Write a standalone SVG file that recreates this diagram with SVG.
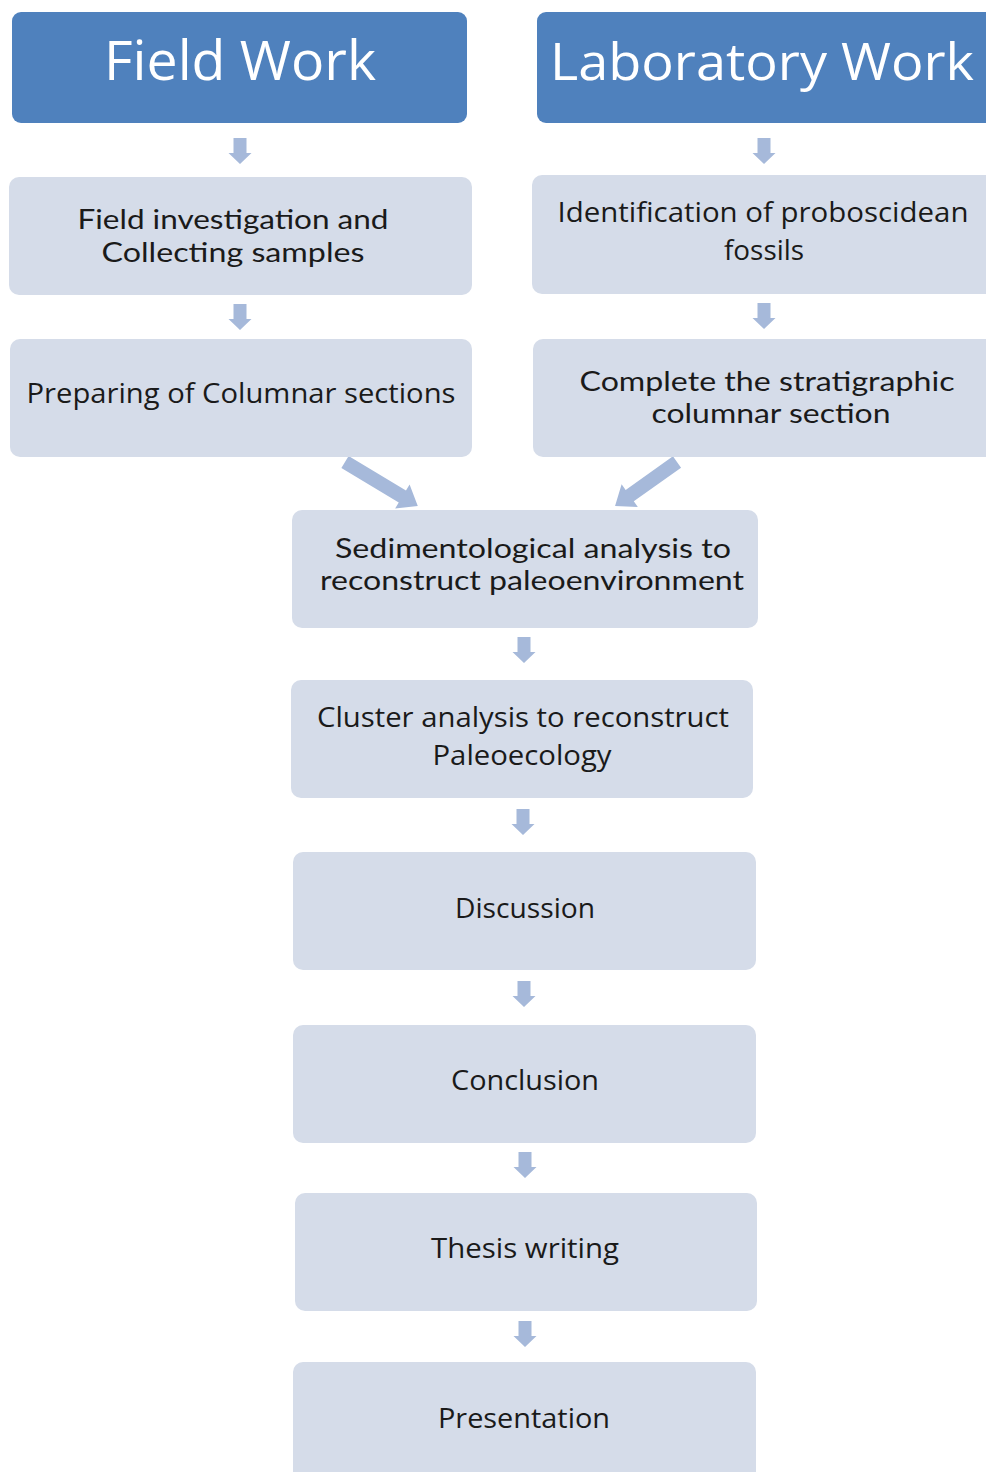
<svg xmlns="http://www.w3.org/2000/svg" width="986" height="1472" viewBox="0 0 986 1472">
<style>
.hdr{fill:#4F81BD}
.box{fill:#D5DCE9}
.arr{fill:#A6B9DA}
.ht{font-family:"Open Sans","Liberation Sans",sans-serif;font-size:55px;fill:#FFFFFF;text-anchor:middle}
.t1{font-family:"Open Sans","Liberation Sans",sans-serif;font-size:27px;fill:#1A1A1A;text-anchor:middle}
.t2{font-family:"Lato","DejaVu Sans",sans-serif;font-size:26px;fill:#1A1A1A;text-anchor:middle}
</style>
<defs>
<path id="down" d="M-6.5,0 h13 v15 h5 l-11.5,11 l-11.5,-11 h5 z"/>
</defs>
<rect width="986" height="1472" fill="#FFFFFF"/>
<g id="connectors">
<use href="#down" class="arr" x="240" y="138"/>
<use href="#down" class="arr" x="764" y="138"/>
<use href="#down" class="arr" x="240" y="304"/>
<use href="#down" class="arr" x="764" y="303"/>
<path class="arr" transform="translate(345,462) rotate(31.1)" d="M0,-7 h67 v-7 l18,14 l-18,14 v-7 h-67 z"/>
<path class="arr" transform="translate(677,462) rotate(144.6)" d="M0,-7 h58 v-7 l18,14 l-18,14 v-7 h-58 z"/>
<use href="#down" class="arr" x="524" y="637"/>
<use href="#down" class="arr" x="523" y="809"/>
<use href="#down" class="arr" x="524" y="981"/>
<use href="#down" class="arr" x="525" y="1152"/>
<use href="#down" class="arr" x="525" y="1321"/>
</g>
<g id="field-work">
<rect class="hdr" x="12" y="12" width="455" height="111" rx="9"/>
<text class="ht" x="240" y="80" textLength="272" lengthAdjust="spacingAndGlyphs">Field Work</text>
</g>
<g id="laboratory-work">
<path class="hdr" d="M546,12 H986 V123 H546 A9,9 0 0 1 537,114 V21 A9,9 0 0 1 546,12 Z"/>
<text class="ht" x="762" y="80" textLength="424" lengthAdjust="spacingAndGlyphs" style="font-size:52px">Laboratory Work</text>
</g>
<g id="field-investigation">
<rect class="box" x="9" y="177" width="463" height="118" rx="10"/>
<text class="t2" x="233" y="229" textLength="311" lengthAdjust="spacingAndGlyphs">Field investigation and</text>
<text class="t2" x="233" y="262" textLength="263" lengthAdjust="spacingAndGlyphs">Collecting samples</text>
</g>
<g id="identification">
<path class="box" d="M542,175 H986 V294 H542 A10,10 0 0 1 532,284 V185 A10,10 0 0 1 542,175 Z"/>
<text class="t1" x="763" y="222" textLength="411" lengthAdjust="spacingAndGlyphs">Identification of proboscidean</text>
<text class="t1" x="764" y="260" textLength="80" lengthAdjust="spacingAndGlyphs">fossils</text>
</g>
<g id="preparing">
<rect class="box" x="10" y="339" width="462" height="118" rx="10"/>
<text class="t1" x="241" y="403" textLength="429" lengthAdjust="spacingAndGlyphs">Preparing of Columnar sections</text>
</g>
<g id="complete">
<path class="box" d="M543,339 H986 V457 H543 A10,10 0 0 1 533,447 V349 A10,10 0 0 1 543,339 Z"/>
<text class="t2" x="767" y="391" textLength="375" lengthAdjust="spacingAndGlyphs">Complete the stratigraphic</text>
<text class="t2" x="771" y="423" textLength="239" lengthAdjust="spacingAndGlyphs">columnar section</text>
</g>
<g id="sedimentological">
<rect class="box" x="292" y="510" width="466" height="118" rx="10"/>
<text class="t2" x="533" y="558" textLength="396" lengthAdjust="spacingAndGlyphs">Sedimentological analysis to</text>
<text class="t2" x="532" y="590" textLength="424" lengthAdjust="spacingAndGlyphs">reconstruct paleoenvironment</text>
</g>
<g id="cluster">
<rect class="box" x="291" y="680" width="462" height="118" rx="10"/>
<text class="t1" x="523" y="727" textLength="412" lengthAdjust="spacingAndGlyphs">Cluster analysis to reconstruct</text>
<text class="t1" x="522" y="765" textLength="179" lengthAdjust="spacingAndGlyphs">Paleoecology</text>
</g>
<g id="discussion">
<rect class="box" x="293" y="852" width="463" height="118" rx="10"/>
<text class="t1" x="525" y="918" textLength="140" lengthAdjust="spacingAndGlyphs">Discussion</text>
</g>
<g id="conclusion">
<rect class="box" x="293" y="1025" width="463" height="118" rx="10"/>
<text class="t1" x="525" y="1090" textLength="148" lengthAdjust="spacingAndGlyphs">Conclusion</text>
</g>
<g id="thesis-writing">
<rect class="box" x="295" y="1193" width="462" height="118" rx="10"/>
<text class="t1" x="525" y="1258" textLength="188" lengthAdjust="spacingAndGlyphs">Thesis writing</text>
</g>
<g id="presentation">
<path class="box" d="M303,1362 H746 A10,10 0 0 1 756,1372 V1472 H293 V1372 A10,10 0 0 1 303,1362 Z"/>
<text class="t1" x="524" y="1428" textLength="172" lengthAdjust="spacingAndGlyphs">Presentation</text>
</g>
</svg>
